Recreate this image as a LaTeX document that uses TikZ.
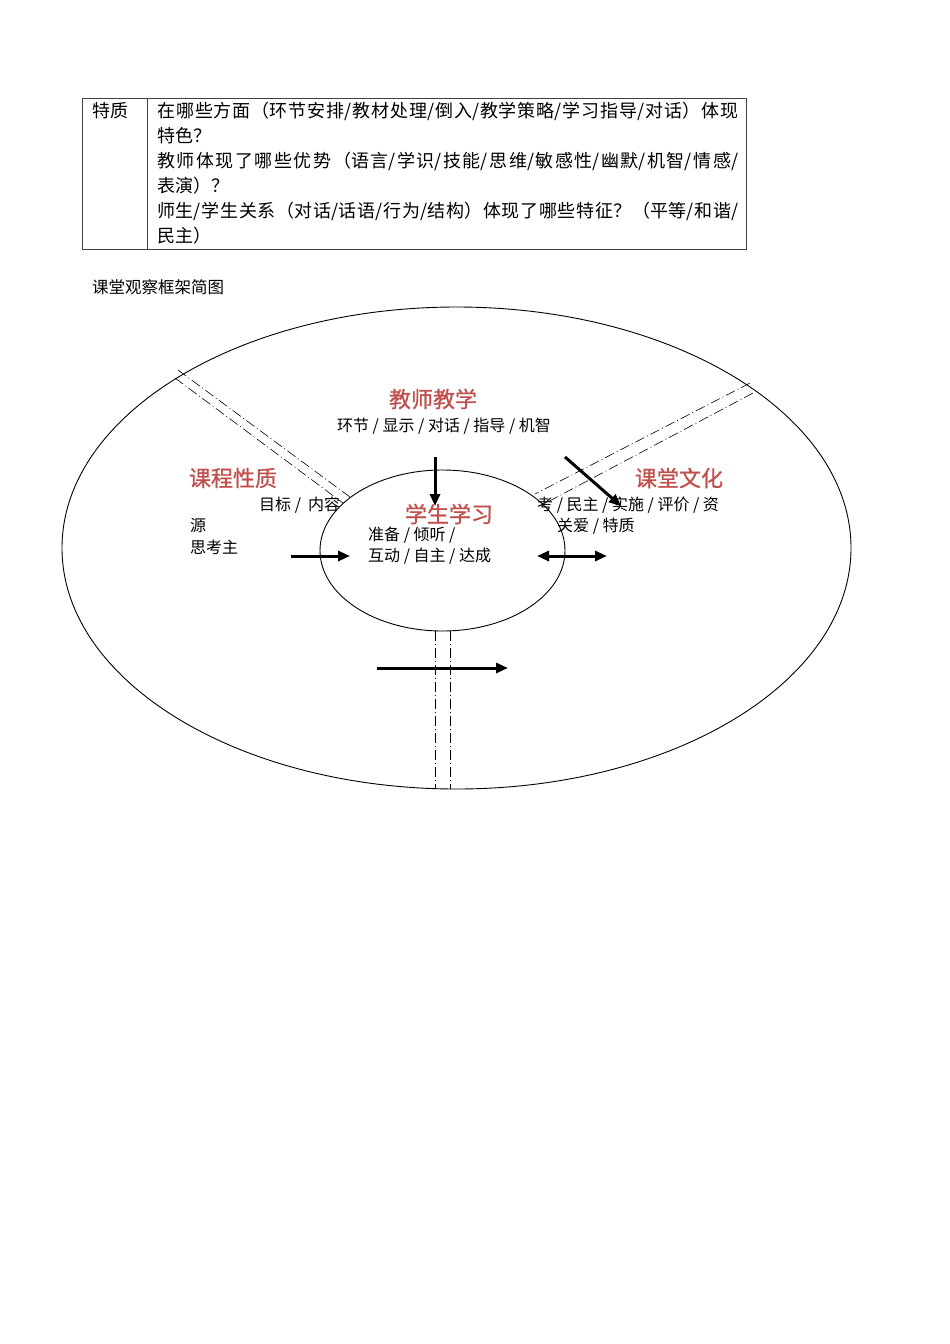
\documentclass[tikz,border=0pt]{standalone}
\usepackage{fontspec}
\setmainfont{Noto Sans CJK SC}
\newfontfamily\headfont[FakeBold=0.8]{Noto Sans CJK SC}
\usepackage{xcolor}
\usetikzlibrary{arrows.meta,shapes.geometric}
\definecolor{headred}{RGB}{192,80,77}
\XeTeXlinebreaklocale "zh"
\XeTeXlinebreakskip=0pt plus 2pt

\begin{document}
\begin{tikzpicture}[
    x=1pt, y=-1pt,
    nosep/.style={inner sep=0},
    cell/.style={nosep, font=\fontsize{18}{25}\selectfont},
    txt/.style={nosep, font=\fontsize{16}{21}\selectfont},
    head/.style={nosep, text=headred, font=\headfont\fontsize{22}{26}\selectfont},
    ring/.style={ellipse, draw, line width=0.9pt, nosep},
    divider/.style={line width=0.6pt, dash pattern=on 10pt off 3pt on 1pt off 3pt},
    flow/.style={line width=3pt, -{Triangle[length=12pt,width=10pt]}},
    twoway/.style={line width=3pt, {Triangle[length=12pt,width=10pt]}-{Triangle[length=12pt,width=10pt]}}]
\useasboundingbox[fill=white] (0,0) rectangle (950,1344);

% table row
\path[draw, line width=0.8pt, black!75] (82,98) rectangle (746,249);
\path[draw, line width=0.8pt, black!75] (147,98) -- (147,249);
\node[cell, anchor=west] (quality) at (92,111) {特质};
\node[cell, anchor=north west, text width=581pt, align=justify] (questions) at (157,101.5) {%
在哪些方面（环节安排/教材处理/倒入/教学策略/学习指导/对话）体现\linebreak
特色？\par
教师体现了哪些优势（语言/学识/技能/思维/敏感性/幽默/机智/情感/\linebreak
表演）？\par
师生/学生关系（对话/话语/行为/结构）体现了哪些特征？（平等/和谐/\linebreak
民主）};

\node[nosep, anchor=west, font=\fontsize{16.5}{20}\selectfont] (caption) at (92,287) {课堂观察框架简图};

% rings
\node[ring, minimum width=789pt, minimum height=482pt] (outer) at (456.5,548) {};
\node[ring, minimum width=245pt, minimum height=161pt] (inner) at (442.5,550.5) {};

% dividers
\draw[divider] (178,370) -- (350,497);
\draw[divider] (175,378) -- (343,503);
\draw[divider] (750,383) -- (535,494);
\draw[divider] (753,393) -- (540,506);
\draw[divider] (435,631) -- (435,789);
\draw[divider] (450,631) -- (450,789);

% labels
\node[head] (teach) at (433,399) {教师教学};
\node[txt] (teach-items) at (444,426) {环节 / 显示 / 对话 / 指导 / 机智};
\node[head] (course) at (233,478) {课程性质};
\node[txt, anchor=west] (course-items) at (259,505) {目标 /\ \ 内容};
\node[txt, anchor=west] (course-more) at (190,526) {源};
\node[txt, anchor=west] (course-more2) at (190,547) {思考主};
\node[head] (learn) at (449,514) {学生学习};
\node[txt, anchor=west] (learn-items) at (368,535) {准备 / 倾听 /};
\node[txt, anchor=west] (learn-items2) at (368,556) {互动 / 自主 / 达成};
\node[head] (culture) at (679,478) {课堂文化};
\node[txt, anchor=west] (culture-items) at (537,505) {考\ / 民主\ / 实施\ / 评价\ / 资};
\node[txt, anchor=west] (culture-items2) at (557,526) {关爱 / 特质};

% arrows
\draw[flow] (435,457) -- (435,506);
\draw[flow] (291,556) -- (350,556);
\draw[twoway] (537,556) -- (607,556);
\draw[flow] (565,457) -- (621,506);
\draw[flow] (377,668) -- (508,668);

\end{tikzpicture}
\end{document}
